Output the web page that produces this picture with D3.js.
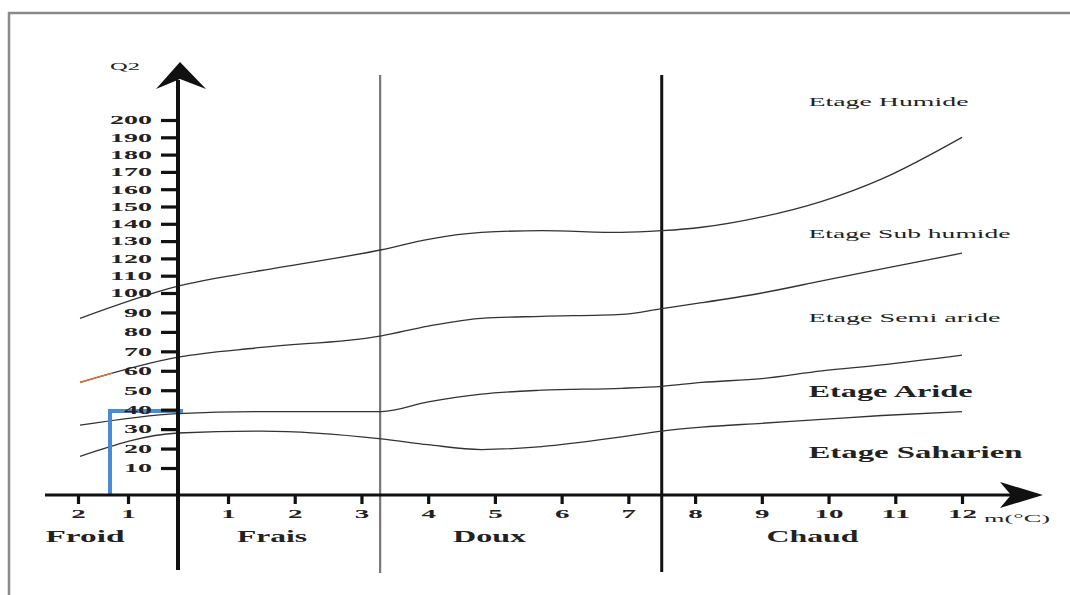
<!DOCTYPE html>
<html>
<head>
<meta charset="utf-8">
<script src="https://cdn.jsdelivr.net/npm/d3@7"></script>
<style>
body { margin: 0; background: #fff; }
text { font-family: "Liberation Serif", "DejaVu Serif", serif; font-weight: bold; fill: #222; }
</style>
</head>
<body>
<script>
const width = 1070
const height = 595

// ticks
const mTicks = [-2, -1, 1, 2, 3, 4, 5, 6, 7, 8, 9, 10, 11, 12]
const q2Ticks = [10, 20, 30, 40, 50, 60, 70, 80, 90, 100, 110, 120, 130, 140, 150, 160, 170, 180, 190, 200]

// winter thermal zones
const zoneNames = ['Froid', 'Frais', 'Doux', 'Chaud']
const zoneCenters = [-1.86, 1.66, 4.92, 9.76]
const zoneLimits = [3.28, 7.5]

// limits between stages, Q2 read at these m values
const limitM = [-1.96, 0, 1.5, 3.3, 4, 4.8, 5.7, 6.9, 7.5, 8.1, 9, 9.9, 10.8, 12]
const humideLimit = [87, 104, 113, 125, 131, 135, 136, 135, 136, 138, 144, 153, 166, 190]
const subHumideLimit = [54, 67, 72, 78, 83, 87, 88, 89, 92, 95, 100, 107, 114, 123]
const semiAridLimit = [32, 38, 39, 39, 44, 48, 50, 51, 52, 54, 56, 60, 63, 68]
const aridLimit = [16, 28, 29, 25, 22, 19.5, 21, 26, 29, 31, 33, 35, 37, 39]

// stage names
const stageNames = ['Etage Humide', 'Etage Sub humide', 'Etage Semi aride', 'Etage Aride', 'Etage Saharien']
const stageQ2 = [208, 132, 85, 46.5, 15.1]
const stageM = 9.7

// station
const stationM = -1.36
const stationQ2 = 39.3

const x = d3.scaleLinear().domain([-2, 0, 1, 12]).range([78, 178, 228, 962])
const y = d3.scaleLinear().domain([0, 10, 100, 200]).range([495, 468, 293, 120])

const svg = d3.select('body').append('svg')
	.attr('width', width)
	.attr('height', height)

// frame
svg.append('path')
	.attr('d', `M9,${height} V13 H${width}`)
	.attr('fill', 'none')
	.attr('stroke', '#8a8a8a')
	.attr('stroke-width', 2.5)

// zone limits
svg.append('line')
	.attr('x1', x(zoneLimits[0])).attr('x2', x(zoneLimits[0]))
	.attr('y1', 75).attr('y2', 573)
	.attr('stroke', '#777').attr('stroke-width', 2.2)
svg.append('line')
	.attr('x1', x(zoneLimits[1])).attr('x2', x(zoneLimits[1]))
	.attr('y1', 75).attr('y2', 572)
	.attr('stroke', '#111').attr('stroke-width', 3)

// stage limits
const line = d3.line()
	.x(d => x(d[0]))
	.y(d => y(d[1]))
	.curve(d3.curveMonotoneX)

const limits = [humideLimit, subHumideLimit, semiAridLimit, aridLimit]
svg.selectAll('.limit')
	.data(limits)
	.enter().append('path')
	.attr('class', 'limit')
	.attr('d', d => line(d3.zip(limitM, d)))
	.attr('fill', 'none')
	.attr('stroke', '#333')
	.attr('stroke-width', 1.3)

// orange start of the sub humide limit
svg.append('clipPath').attr('id', 'leftClip')
	.append('rect').attr('x', 0).attr('y', 0).attr('width', 112).attr('height', height)
svg.append('path')
	.attr('d', line(d3.zip(limitM, subHumideLimit)))
	.attr('clip-path', 'url(#leftClip)')
	.attr('fill', 'none')
	.attr('stroke', '#e0733a')
	.attr('stroke-width', 1.5)

// station
svg.append('path')
	.attr('d', `M${x(stationM)},${y(0)} V${y(stationQ2)} H${x(0.1)}`)
	.attr('fill', 'none')
	.attr('stroke', '#4a8bd4')
	.attr('stroke-width', 4)

// y axis
const yAxis = svg.append('g')
	.attr('transform', `translate(${x(0)},0)`)
	.call(d3.axisLeft(y).tickValues(q2Ticks).tickSize(17).tickPadding(9))
yAxis.select('.domain').remove()
yAxis.selectAll('.tick line').attr('stroke', '#111').attr('stroke-width', 3.2)
yAxis.selectAll('.tick text')
	.attr('font-size', 12)
	.attr('textLength', d => String(d).length * 14)
	.attr('lengthAdjust', 'spacingAndGlyphs')
	.style('fill', '#222')

svg.append('line')
	.attr('x1', x(0)).attr('x2', x(0))
	.attr('y1', 570).attr('y2', 80)
	.attr('stroke', '#111').attr('stroke-width', 4)
svg.append('path')
	.attr('d', `M${x(0) + 2},62 L${x(0) + 28},89 L${x(0) + 2},79 L${x(0) - 22},89 Z`)
	.attr('fill', '#111')

svg.append('text')
	.attr('x', 110).attr('y', 70)
	.attr('font-size', 11)
	.attr('textLength', 30).attr('lengthAdjust', 'spacingAndGlyphs')
	.style('font-weight', 'normal')
	.text('Q2')

// x axis
const xAxis = svg.append('g')
	.attr('transform', `translate(0,${y(0)})`)
	.call(d3.axisBottom(x).tickValues(mTicks).tickSize(9).tickPadding(5).tickFormat(d => Math.abs(d)))
xAxis.select('.domain').remove()
xAxis.selectAll('.tick line').attr('stroke', '#111').attr('stroke-width', 3.2)
xAxis.selectAll('.tick text')
	.attr('font-size', 13)
	.attr('textLength', d => String(Math.abs(d)).length * 14.5)
	.attr('lengthAdjust', 'spacingAndGlyphs')
	.style('fill', '#222')

svg.append('line')
	.attr('x1', 45).attr('x2', 1015)
	.attr('y1', y(0)).attr('y2', y(0))
	.attr('stroke', '#111').attr('stroke-width', 3)
svg.append('path')
	.attr('d', `M1043,${y(0)} L1000,${y(0) - 13} L1011,${y(0)} L1000,${y(0) + 13} Z`)
	.attr('fill', '#111')

svg.append('text')
	.attr('x', 984).attr('y', y(0) + 27)
	.attr('font-size', 11)
	.attr('textLength', 66).attr('lengthAdjust', 'spacingAndGlyphs')
	.style('font-weight', 'normal')
	.text('m(°C)')

// zone names
const zoneWidths = [79, 70, 73, 92]
svg.selectAll('.zone')
	.data(zoneNames)
	.enter().append('text')
	.attr('class', 'zone')
	.attr('x', (d, i) => x(zoneCenters[i]))
	.attr('y', 542)
	.attr('text-anchor', 'middle')
	.attr('font-size', 16)
	.attr('textLength', (d, i) => zoneWidths[i])
	.attr('lengthAdjust', 'spacingAndGlyphs')
	.text(d => d)

// stage names
const stageWidths = [160, 202, 192, 164, 214]
const stageSizes = [12, 13, 12, 16, 17]
svg.selectAll('.stage')
	.data(stageNames)
	.enter().append('text')
	.attr('class', 'stage')
	.attr('x', x(stageM))
	.attr('y', (d, i) => y(stageQ2[i]))
	.attr('font-size', (d, i) => stageSizes[i])
	.attr('textLength', (d, i) => stageWidths[i])
	.attr('lengthAdjust', 'spacingAndGlyphs')
	.style('font-weight', (d, i) => i > 2 ? 'bold' : 'normal')
	.text(d => d)
</script>
</body>
</html>
